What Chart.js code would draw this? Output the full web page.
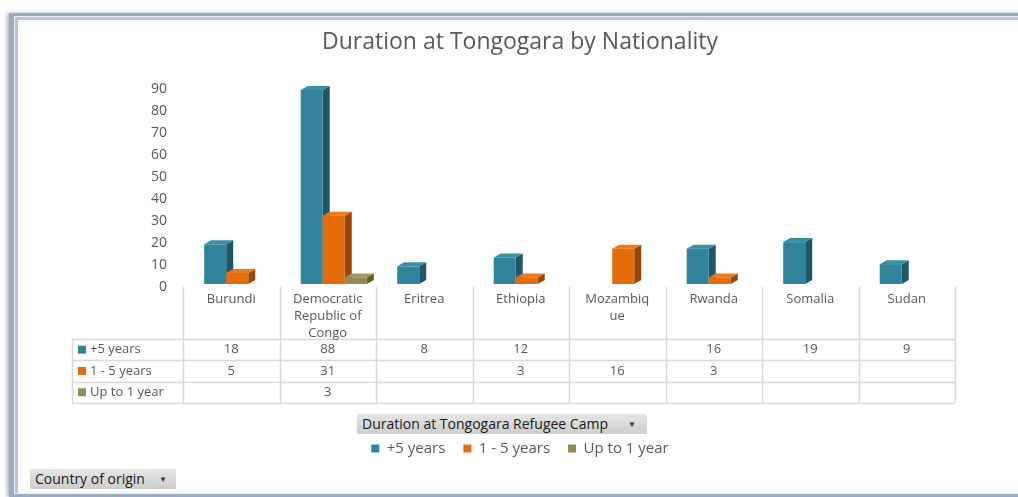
<!DOCTYPE html>
<html lang="en">
<head>
<meta charset="UTF-8">
<title>Duration at Tongogara by Nationality</title>
<script src="https://cdn.jsdelivr.net/npm/chart.js"></script>
<style>
  body { margin: 0; background: #fff; font-family: "Open Sans", sans-serif; }
  #wrap { position: relative; width: 1018px; height: 497px; overflow: hidden; }
  .frame {
    position: absolute; left: 9px; top: 13px; width: 1030px; height: 478px;
    border: 3px solid #9aabc4; border-left-width: 5px;
    box-shadow: -2px 0 4px rgba(70, 90, 120, .45), inset 0 0 0 1px #eef2f7, inset 2px 2px 0 2px #b7c4d8;
    background: #fff;
  }
  canvas { position: absolute; left: 0; top: 0; }
  .pivot {
    position: absolute; box-sizing: border-box; height: 20px; padding: 0 5px;
    background: linear-gradient(#e6e6e6, #cdcdcd);
    font: 14px "Open Sans", sans-serif; line-height: 20px; color: #1a1a1a; white-space: nowrap;
  }
  .pivot span { position: absolute; top: 0; font-size: 8px; color: #333; }
</style>
</head>
<body>
<div id="wrap">
  <div class="frame"></div>
  <canvas id="chart" width="1018" height="497"></canvas>
  <div class="pivot" style="left:357px; top:414px; width:290px;">Duration at Tongogara Refugee Camp<span style="left:271px">&#9660;</span></div>
  <div class="pivot" style="left:30px; top:469px; width:146px;">Country of origin<span style="left:129px">&#9660;</span></div>
</div>

<script>
  // categories (wrapped as they appear in the table header)
  const categories = ["Burundi", ["Democratic", "Republic of", "Congo"], "Eritrea", "Ethiopia",
                      ["Mozambiq", "ue"], "Rwanda", "Somalia", "Sudan"];
  const seriesNames = ["+5 years", "1 - 5 years", "Up to 1 year"];

  // people per duration group
  const overFive  = [18, 88, 8, 12, null, 16, 19, 9];
  const oneToFive = [5, 31, null, 3, 16, 3, null, null];
  const upToOne   = [null, 3, null, null, null, null, null, null];

  const yMax = 90;
  const yStep = 10;

  const frontColors = ["#31849b", "#e46c0a", "#948a54"];
  const topColors   = ["#3790a8", "#ee7a1c", "#a19760"];
  const sideColors  = ["#1f5767", "#994708", "#5f5835"];

  const textColor = "#595959";
  const gridColor = "#d9d9d9";

  // 3D columns: bars stand a little back on the floor, so the whole box is pushed right/up.
  // Each bar: side, top, front, in series order so the next front hides the previous side.
  const bars3d = {
    id: "bars3d",
    beforeDatasetDraw() { return false; },
    afterDatasetsDraw(chart) {
      const ctx = chart.ctx;
      const dx = 7, dy = 4;       // depth of a column
      const backX = 6, backY = 3; // position on the floor
      ctx.save();
      for (let i = 0; i < chart.data.labels.length; i++) {
        chart.data.datasets.forEach((ds, d) => {
          if (ds.data[i] == null) return;
          const bar = chart.getDatasetMeta(d).data[i];
          const p = bar.getProps(["x", "y", "base", "width"], true);
          const l = p.x - p.width / 2 + backX, r = p.x + p.width / 2 + backX;
          const y = p.y - backY, base = p.base - backY;

          ctx.fillStyle = sideColors[d];
          ctx.beginPath();
          ctx.moveTo(r, y); ctx.lineTo(r + dx, y - dy);
          ctx.lineTo(r + dx, base - dy); ctx.lineTo(r, base);
          ctx.closePath(); ctx.fill();

          ctx.fillStyle = topColors[d];
          ctx.beginPath();
          ctx.moveTo(l, y); ctx.lineTo(l + dx, y - dy);
          ctx.lineTo(r + dx, y - dy); ctx.lineTo(r, y);
          ctx.closePath(); ctx.fill();

          ctx.fillStyle = frontColors[d];
          ctx.fillRect(l, y, r - l, base - y);
        });
      }
      ctx.restore();
    }
  };

  // data table under the plot
  const dataTable = {
    id: "dataTable",
    afterDraw(chart) {
      const ctx = chart.ctx;
      const xs = chart.scales.x;
      const n = chart.data.labels.length;
      const colW = (xs.right - xs.left) / n;
      const top = chart.chartArea.bottom;
      const headH = 52, rowH = 21.3;
      const labelLeft = xs.left - 111;
      const rowsTop = top + headH;
      const bottom = rowsTop + rowH * chart.data.datasets.length;

      ctx.save();
      ctx.strokeStyle = gridColor;
      ctx.lineWidth = 1.5;
      ctx.beginPath();
      for (let c = 0; c <= n; c++) {
        const x = Math.round(xs.left + c * colW) + 0.5;
        ctx.moveTo(x, top); ctx.lineTo(x, bottom);
      }
      ctx.moveTo(labelLeft + 0.5, rowsTop); ctx.lineTo(labelLeft + 0.5, bottom);
      for (let r = 0; r <= chart.data.datasets.length; r++) {
        const y = Math.round(rowsTop + r * rowH) + 0.5;
        ctx.moveTo(labelLeft, y); ctx.lineTo(xs.right, y);
      }
      ctx.stroke();

      ctx.fillStyle = textColor;
      ctx.font = "13px 'Open Sans', sans-serif";
      ctx.textAlign = "center";
      ctx.textBaseline = "middle";
      chart.data.labels.forEach((lab, i) => {
        const cx = xs.getPixelForValue(i);
        const lines = Array.isArray(lab) ? lab : [lab];
        lines.forEach((t, k) => ctx.fillText(t, cx, top + 12 + k * 17));
      });

      chart.data.datasets.forEach((ds, d) => {
        const cy = rowsTop + d * rowH + rowH / 2;
        ctx.fillStyle = ds.backgroundColor;
        ctx.fillRect(labelLeft + 6, cy - 4, 8, 8);
        ctx.fillStyle = textColor;
        ctx.textAlign = "left";
        ctx.fillText(ds.label, labelLeft + 18, cy);
        ctx.textAlign = "center";
        ds.data.forEach((v, i) => {
          if (v != null) ctx.fillText(String(v), xs.getPixelForValue(i), cy);
        });
      });
      ctx.restore();
    }
  };

  new Chart(document.getElementById("chart"), {
    type: "bar",
    data: {
      labels: categories,
      datasets: [
        { label: seriesNames[0], data: overFive,  backgroundColor: frontColors[0] },
        { label: seriesNames[1], data: oneToFive, backgroundColor: frontColors[1] },
        { label: seriesNames[2], data: upToOne,   backgroundColor: frontColors[2] }
      ]
    },
    options: {
      responsive: false,
      animation: false,
      categoryPercentage: 0.685,
      barPercentage: 1,
      layout: { padding: { left: 85, right: 63, top: 19, bottom: 31 } },
      plugins: {
        title: {
          display: true,
          text: "Duration at Tongogara by Nationality",
          color: textColor,
          font: { family: "'Open Sans', sans-serif", size: 23, weight: "normal" },
          padding: { top: 10, bottom: 32 }
        },
        legend: {
          position: "bottom",
          labels: {
            color: textColor,
            boxWidth: 8, boxHeight: 8,
            padding: 18,
            font: { family: "'Open Sans', sans-serif", size: 15 }
          }
        },
        tooltip: { enabled: false }
      },
      scales: {
        x: {
          grid: { display: false },
          border: { display: false },
          ticks: { display: false },
          afterFit(scale) { scale.height = 136; }
        },
        y: {
          min: 0,
          max: yMax,
          grid: { display: false, drawTicks: false },
          border: { display: false },
          ticks: {
            stepSize: yStep,
            padding: 16,
            color: textColor,
            font: { family: "'Open Sans', sans-serif", size: 14 }
          },
          afterFit(scale) { scale.width = 98; }
        }
      }
    },
    plugins: [bars3d, dataTable]
  });
</script>
</body>
</html>
